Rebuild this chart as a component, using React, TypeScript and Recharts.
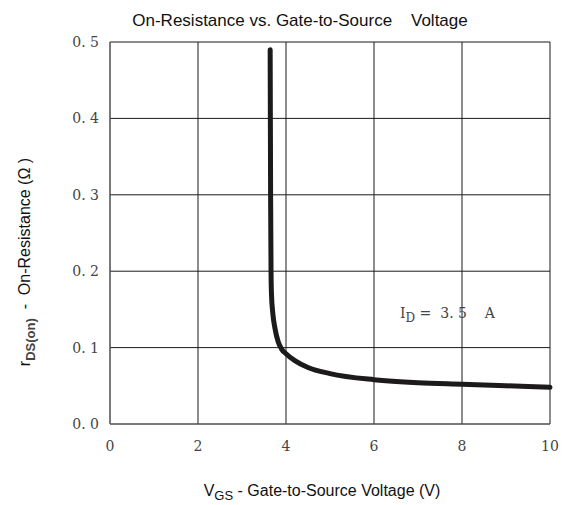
import React from 'react';
import { LineChart, Line, XAxis, YAxis, CartesianGrid } from 'recharts';

// V_GS (V) and r_DS(on) (ohm), I_D = 3.5 A
const vgs = [3.64, 3.65, 3.66, 3.67, 3.7, 3.75, 3.82, 3.9, 4.0, 4.2, 4.5, 5.0, 6.0, 7.0, 8.0, 9.0, 10.0];
const rdsOn = [0.49, 0.3, 0.2, 0.17, 0.145, 0.125, 0.108, 0.098, 0.092, 0.083, 0.074, 0.066, 0.058, 0.054, 0.052, 0.05, 0.048];

const xTicks = [0, 2, 4, 6, 8, 10];
const yTicks = [0, 0.1, 0.2, 0.3, 0.4, 0.5];

const data = vgs.map((v, i) => ({ vgs: v, r: rdsOn[i] }));

const serif = '"DejaVu Serif", "Liberation Serif", serif';
const sans = '"Liberation Sans", Arial, sans-serif';

export default function App() {
  return (
    <div style={{ position: 'absolute', left: 0, top: 0, width: 566, height: 505, background: '#fff' }}>
      <LineChart width={566} height={505} data={data} margin={{ top: 42, right: 16, left: 80, bottom: 51 }}>
        <CartesianGrid stroke="#1a1a1a" strokeWidth={1} horizontalValues={yTicks} verticalValues={xTicks} />
        <XAxis
          type="number"
          dataKey="vgs"
          domain={[0, 10]}
          ticks={xTicks}
          height={30}
          axisLine={{ stroke: '#666' }}
          tickLine={false}
          tickMargin={11}
          tick={{ fontFamily: serif, fontSize: 14, fill: '#444' }}
        />
        <YAxis
          type="number"
          domain={[0, 0.5]}
          ticks={yTicks}
          width={30}
          axisLine={{ stroke: '#666' }}
          tickLine={false}
          tickMargin={5}
          tickFormatter={(v: number) => v.toFixed(1).replace('.', '. ')}
          tick={{ fontFamily: serif, fontSize: 14, fill: '#444' }}
        />
        <Line
          type="monotone"
          dataKey="r"
          stroke="#1c1a1b"
          strokeWidth={5}
          strokeLinecap="round"
          dot={false}
          isAnimationActive={false}
        />
      </LineChart>
      <svg width={566} height={505} style={{ position: 'absolute', left: 0, top: 0, pointerEvents: 'none' }}>
        <text x={300} y={26} textAnchor="middle" fontFamily={sans} fontSize={17} fill="#111" style={{ whiteSpace: 'pre' }}>
          {'On-Resistance vs. Gate-to-Source    Voltage'}
        </text>
        <text x={400} y={318} fontFamily={serif} fontSize={14} fill="#444" style={{ whiteSpace: 'pre' }}>
          I<tspan fontSize={12} dy={4}>D</tspan>
          <tspan dy={-4}>{' =  3. 5    A'}</tspan>
        </text>
        <text x={322} y={496} textAnchor="middle" fontFamily={sans} fontSize={16} fill="#111" style={{ whiteSpace: 'pre' }}>
          V<tspan fontSize={13} dy={4}>GS</tspan>
          <tspan dy={-4}>{' - Gate-to-Source Voltage (V)'}</tspan>
        </text>
        <text
          transform="translate(30, 262) rotate(-90)"
          textAnchor="middle"
          fontFamily={sans}
          fontSize={16}
          fill="#111"
          style={{ whiteSpace: 'pre' }}
        >
          r<tspan fontSize={13} dy={5} fontWeight="bold" fill="#444">DS(on)</tspan>
          <tspan dy={-5}>{'  -  On-Resistance (Ω )'}</tspan>
        </text>
      </svg>
    </div>
  );
}
